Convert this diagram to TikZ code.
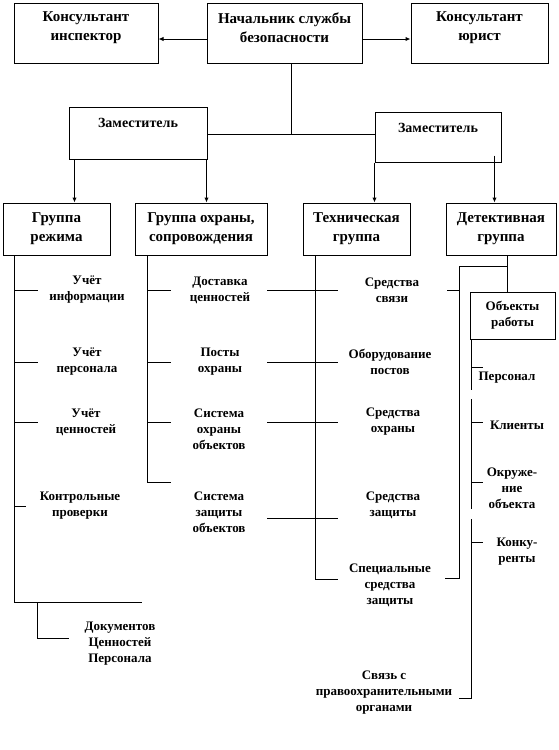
\documentclass[tikz,border=0pt]{standalone}
\usepackage{fontspec}
\setmainfont{Liberation Serif}
\usetikzlibrary{arrows.meta,positioning,calc}

\begin{document}
\begin{tikzpicture}[x=1pt,y=-1pt,line width=1pt,
    box/.style={draw,inner sep=0pt},
    ttl/.style={inner sep=0pt,align=center,
                font=\fontsize{15}{19}\selectfont\bfseries},
    zam/.style={inner sep=0pt,font=\fontsize{14}{17}\selectfont\bfseries},
    lbl/.style={inner sep=0pt,align=center,
                font=\fontsize{13}{16}\selectfont\bfseries},
    arr/.style={-{Latex[length=5pt,width=4.5pt]}}
  ]
  \useasboundingbox (0,0) rectangle (558,750);
  % head and consultants
  \node[box,minimum width=144,minimum height=60,
        label={[ttl,yshift=5pt]center:Консультант\\инспектор}] (kinsp) at (86,33) {};
  \node[box,minimum width=155,minimum height=60,
        label={[ttl,yshift=5pt]center:Начальник службы\\безопасности}] (chief) at (284.5,33) {};
  \node[box,minimum width=137,minimum height=60,
        label={[ttl,yshift=5pt]center:Консультант\\юрист}] (kyur) at (479.5,33) {};
  \draw[arr] ([yshift=-6pt]chief.west) -- ([yshift=-6pt]kinsp.east);
  \draw[arr] ([yshift=-6pt]chief.east) -- ([yshift=-6pt]kyur.west);

  % deputies
  \node[box,minimum width=138,minimum height=52,
        label={[zam,yshift=10pt]center:Заместитель}] (zamL) at (138,133) {};
  \node[box,minimum width=126,minimum height=50,
        label={[zam,yshift=9pt]center:Заместитель}] (zamR) at (438,137) {};
  \coordinate (hub) at (291,134);
  \draw ([xshift=-11pt]hub |- chief.south) -- (hub |- chief.south) -- (hub);
  \draw (zamL.east |- hub) -- (zamR.west |- hub);

  % groups
  \node[box,ttl,minimum width=107,minimum height=52] (g1) at (56.5,229) {Группа\\режима};
  \node[box,ttl,minimum width=132,minimum height=52] (g2) at (201,229) {Группа охраны,\\сопровождения};
  \node[box,ttl,minimum width=107,minimum height=52] (g3) at (356.5,229) {Техническая\\группа};
  \node[box,ttl,minimum width=110,minimum height=52] (g4) at (501,229) {Детективная\\группа};
  \draw[arr] ([xshift=6pt]zamL.south west) -- ([xshift=6pt]zamL.south west |- g1.north);
  \draw[arr] ([xshift=-1pt]zamL.south east) -- ([xshift=-1pt]zamL.south east |- g2.north);
  \draw[arr] (zamR.south west) -- (zamR.south west |- g3.north);
  \draw[arr] ([shift={(-7pt,7pt)}]zamR.south east) -- ([xshift=-7pt]zamR.south east |- g4.north);

  % regime group
  \node[lbl] (u1) at (87,290) {Учёт\\информации};
  \node[lbl] (u2) at (87,362) {Учёт\\персонала};
  \node[lbl] (u3) at (86,422) {Учёт\\ценностей};
  \node[lbl] (u4) at (80,506) {Контрольные\\проверки};
  \node[lbl] (doc) at (120,644) {Документов\\Ценностей\\Персонала};
  \coordinate (s1) at (14,602);
  \coordinate (s1e) at (142,602);
  \coordinate (d1) at (37,602);
  \coordinate (d2) at (69,638);
  \draw (s1 |- g1.south) -- (s1) -- (s1e);
  \draw (s1 |- u1) -- ++(24,0);
  \draw (s1 |- u2) -- ++(24,0);
  \draw (s1 |- u3) -- ++(24,0);
  \draw (s1 |- u4) -- ++(12,0);
  \draw (d1) |- (d2);

  % guard group
  \node[lbl] (v1) at (220,290) {Доставка\\ценностей};
  \node[lbl] (v2) at (220,362) {Посты\\охраны};
  \node[lbl] (v3) at (219,429) {Система\\охраны\\объектов};
  \node[lbl] (v4) at (219,512) {Система\\защиты\\объектов};
  \coordinate (s2) at (147,482);
  \draw (s2 |- g2.south) -- (s2) -- ++(24,0);
  \draw (s2 |- u1) -- ++(24,0);
  \draw (s2 |- u2) -- ++(24,0);
  \draw (s2 |- u3) -- ++(24,0);

  % technical group
  \node[lbl] (w1) at (392,290) {Средства\\связи};
  \node[lbl] (w2) at (390,362) {Оборудование\\постов};
  \node[lbl] (w3) at (393,422) {Средства\\охраны};
  \node[lbl] (w4) at (393,505) {Средства\\защиты};
  \node[lbl] (w5) at (390,585) {Специальные\\средства\\защиты};
  \node[lbl] (w6) at (384,693) {Связь с\\правоохранительными\\органами};
  \coordinate (s3) at (315,579);
  \draw (s3 |- g3.south) -- (s3) -- ++(23,0);
  \draw ([xshift=-48pt]s3 |- w1) -- ++(71,0);
  \draw ([xshift=-48pt]s3 |- w2) -- ++(71,0);
  \draw ([xshift=-48pt]s3 |- w3) -- ++(71,0);
  \draw ([shift={(-48pt,-13pt)}]s3 |- w4) -- ++(71,0);

  % detective group
  \node[box,lbl,minimum width=85,minimum height=47] (obj) at (512.5,315.5) {Объекты\\работы};
  \coordinate (k1) at (507,266);
  \coordinate (k2) at (459,266);
  \coordinate (k3) at (459,578);
  \draw (k1 |- g4.south) -- (k1 |- obj.north);
  \draw (k1) -- (k2) -- (k3) -- ++(-14,0);
  \draw (k2 |- w1) -- ++(-12,0);
  \node[lbl] (x1) at (507,378) {Персонал};
  \node[lbl] (x2) at (517,425) {Клиенты};
  \node[lbl] (x3) at (512,488) {Окруже-\\ние\\объекта};
  \node[lbl] (x4) at (517,552) {Конку-\\ренты};
  \coordinate (p1) at (471,390);
  \coordinate (p2) at (471,399);
  \coordinate (p3) at (471,509);
  \coordinate (p4) at (471,519);
  \coordinate (p5) at (471,698);
  \draw (p1 |- obj.south) -- (p1);
  \draw (p2) -- (p3);
  \draw (p4) -- (p5) -- (p5 -| k2);
  \draw ([yshift=11pt]p1 |- x1) -- ++(12,0);
  \draw ([yshift=3pt]p1 |- x2) -- ++(12,0);
  \draw ([yshift=6pt]p1 |- x3) -- ++(12,0);
  \draw ([yshift=10pt]p1 |- x4) -- ++(12,0);
\end{tikzpicture}
\end{document}
